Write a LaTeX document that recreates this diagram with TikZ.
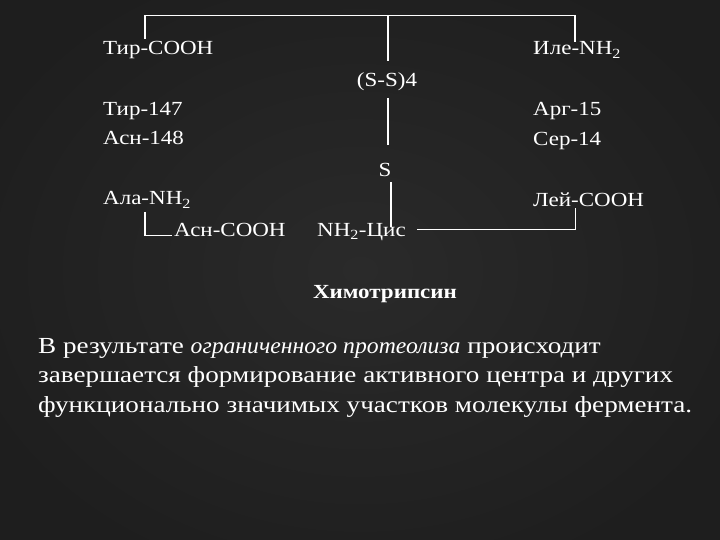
\documentclass[tikz,border=0pt]{standalone}
\usepackage{fontspec}
\setmainfont{Liberation Serif}[FakeStretch=1.15]
\newfontfamily\parafont{Liberation Serif}[FakeStretch=1.18,ItalicFeatures={FakeStretch=1.03}]
\begin{document}
\begin{tikzpicture}[x=1pt,y=-1pt,
  lab/.style={text=white,inner sep=0pt,font=\fontsize{20}{22}\selectfont},
  wire/.style={draw=white,line width=1.6pt}]
\definecolor{bgin}{HTML}{2A2A2A}
\definecolor{bgout}{HTML}{1E1E1E}
\useasboundingbox (0,0) rectangle (720,540);
\shade[inner color=bgin,outer color=bgout] (-60,-60) rectangle (780,600);
% labels
\node[lab,anchor=base west] (tircooh) at (103,55) {Тир-COOH};
\node[lab,anchor=base west] (ile) at (533,55) {Иле-NH\textsubscript{2}};
\node[lab,anchor=base] (ss) at (387,86.5) {(S-S)4};
\node[lab,anchor=base west] (tir147) at (103,116) {Тир-147};
\node[lab,anchor=base west] (arg) at (533,116) {Арг-15};
\node[lab,anchor=base west] (asn148) at (103,145) {Асн-148};
\node[lab,anchor=base west] (ser) at (533,146) {Сер-14};
\node[lab,anchor=base] (s) at (385,176.5) {S};
\node[lab,anchor=base west] (ala) at (103,205) {Ала-NH\textsubscript{2}};
\node[lab,anchor=base west] (lei) at (533,206.5) {Лей-COOH};
\node[lab,anchor=base west] (asncooh) at (174,236.5) {Асн-COOH};
\node[lab,anchor=base west] (cis) at (317,236.5) {NH\textsubscript{2}-Цис};
\node[lab,anchor=base,font=\fontsize{20}{22}\selectfont\bfseries] (chymo) at (385,298) {Химотрипсин};
\node[text=white,inner sep=0pt,anchor=base west,align=left,
  font=\parafont\fontsize{23}{29.8}\selectfont] (para) at (38,412.6)
  {В результате \textit{ограниченного протеолиза} происходит\\
   завершается формирование активного центра и других\\
   функционально значимых участков молекулы фермента.};
% connector end points
\coordinate (tl) at (145,15.5);
\coordinate (tm) at (387.7,15.5);
\coordinate (tr) at (575,15.5);
\coordinate (tlb) at (145,39);
\coordinate (tmb) at (387.7,61);
\coordinate (trb) at (575,42);
\coordinate (m1) at (387.7,98);
\coordinate (m2) at (387.7,145);
\coordinate (m3) at (391,182);
\coordinate (m4) at (391,227);
\coordinate (cisr) at (417,229.5);
\coordinate (br) at (575.5,229.5);
\coordinate (leib) at (575.5,208);
\coordinate (alab) at (145,212);
\coordinate (bl) at (145,235.5);
\coordinate (asnl) at (172,235.5);
% connectors
\draw[wire] (tlb) -- (tl) -- (tr) -- (trb);
\draw[wire] (tm) -- (tmb);
\draw[wire] (m1) -- (m2);
\draw[wire] (m3) -- (m4);
\draw[wire] (cisr) -- (br) -- (leib);
\draw[wire] (alab) -- (bl) -- (asnl);
\end{tikzpicture}
\end{document}
